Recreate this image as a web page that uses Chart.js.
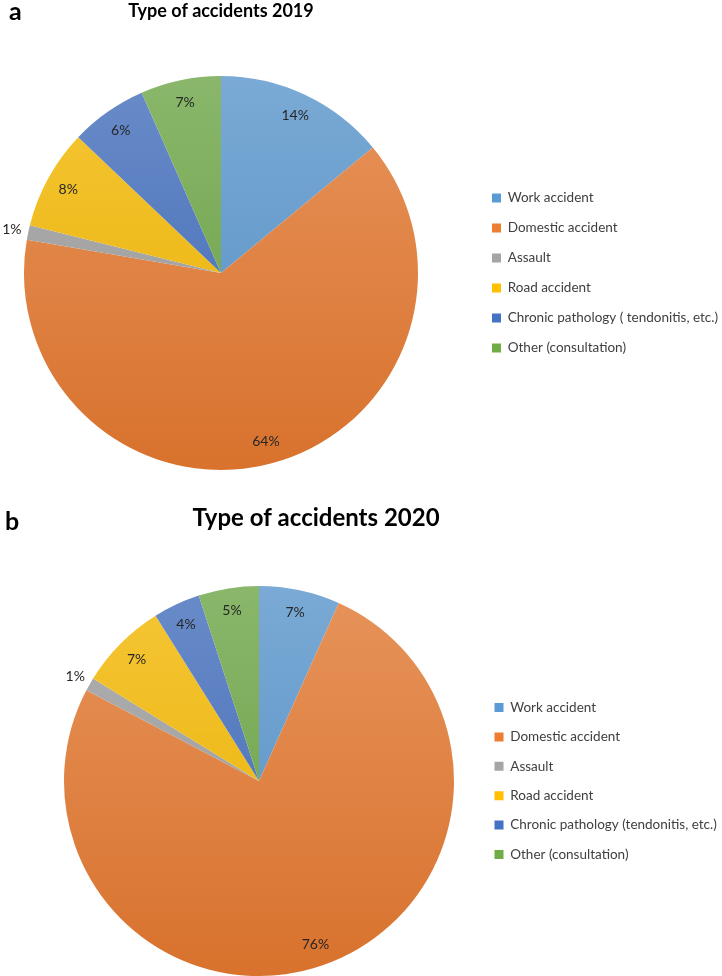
<!DOCTYPE html>
<html>
<head>
<meta charset="utf-8">
<script src="https://cdn.jsdelivr.net/npm/chart.js@4.4.1/dist/chart.umd.min.js"></script>
<style>
  html, body { margin: 0; padding: 0; background: #ffffff; }
  body { width: 722px; height: 976px; position: relative; overflow: hidden; }
  .panel { position: absolute; left: 0; width: 722px; height: 488px; }
  .letter { position: absolute; font-family: Lato, 'Liberation Sans', sans-serif; font-weight: bold; font-size: 25px; color: #000; line-height: 1; }
</style>
</head>
<body>
<div class="panel" style="top:0"><canvas id="c2019" width="722" height="488"></canvas></div>
<div class="panel" style="top:488px"><canvas id="c2020" width="722" height="488"></canvas></div>
<div class="letter" style="left:9px; top:-2px;">a</div>
<div class="letter" style="left:5px; top:508px;">b</div>
<script>
// ---- data ----
const categories2019 = ['Work accident', 'Domestic accident', 'Assault', 'Road accident', 'Chronic pathology ( tendonitis, etc.)', 'Other (consultation)'];
const categories2020 = ['Work accident', 'Domestic accident', 'Assault', 'Road accident', 'Chronic pathology (tendonitis, etc.)', 'Other (consultation)'];
const values2019 = [14.0, 63.7, 1.2, 8.2, 6.3, 6.6];
const values2020 = [6.7, 76.0, 1.1, 7.3, 3.9, 5.0];
const title2019 = 'Type of accidents 2019';
const title2020 = 'Type of accidents 2020';

// ---- style ----
const FONT = "Lato, 'Liberation Sans', sans-serif";
const baseColors = ['#5B9BD5', '#ED7D31', '#A5A5A5', '#FFC000', '#4472C4', '#70AD47'];

function hexToRgb(h) { const n = parseInt(h.slice(1), 16); return [(n >> 16) & 255, (n >> 8) & 255, n & 255]; }
function rgbStr(a) { return 'rgb(' + a.map(v => Math.max(0, Math.min(255, Math.round(v)))).join(',') + ')'; }
function lightTone(h) { const c = hexToRgb(h); return rgbStr(c.map(v => (v + (255 - v) * 0.22) * 0.96)); }
function darkTone(h) { const c = hexToRgb(h); return rgbStr(c.map(v => v * 0.91)); }

function gradientFill(ctx) {
  const chart = ctx.chart;
  const area = chart.chartArea;
  const base = baseColors[ctx.dataIndex % baseColors.length];
  if (!area) return base;
  const cy = (area.top + area.bottom) / 2;
  const r = Math.min(area.right - area.left, area.bottom - area.top) / 2;
  const g = chart.ctx.createLinearGradient(0, cy - r, 0, cy + r);
  g.addColorStop(0, lightTone(base));
  g.addColorStop(1, darkTone(base));
  return g;
}

// percentage labels placed along each slice's mid angle
const pctLabels = {
  id: 'pctLabels',
  afterDatasetsDraw(chart) {
    const meta = chart.getDatasetMeta(0);
    const data = chart.data.datasets[0].data;
    const total = data.reduce((a, b) => a + b, 0);
    const ctx = chart.ctx;
    ctx.save();
    ctx.font = '14px ' + FONT;
    ctx.fillStyle = '#262626';
    ctx.textAlign = 'center';
    ctx.textBaseline = 'middle';
    meta.data.forEach((arc, i) => {
      const p = arc.getProps(['x', 'y', 'startAngle', 'endAngle', 'outerRadius'], true);
      const pct = Math.round(data[i] / total * 100);
      const mid = (p.startAngle + p.endAngle) / 2;
      const k = pct < 3 ? 1.085 : 0.885;
      ctx.fillText(pct + '%', p.x + Math.cos(mid) * p.outerRadius * k, p.y + Math.sin(mid) * p.outerRadius * k);
    });
    ctx.restore();
  }
};

// moves the legend box sideways after layout, keeping the pie where the layout put it
const legendShift = {
  id: 'legendShift',
  afterLayout(chart, args, opts) {
    const lg = chart.legend;
    if (!lg || opts.dx === undefined) return;
    lg.left += opts.dx;
    lg.right = chart.width;
    lg.width = lg.right - lg.left;
  }
};

function makeChart(id, labels, values, title, opts) {
  return new Chart(document.getElementById(id), {
    type: 'pie',
    data: {
      labels: labels,
      datasets: [{ data: values, backgroundColor: gradientFill, borderWidth: 0, hoverOffset: 0 }]
    },
    options: {
      responsive: false,
      animation: false,
      events: [],
      layout: { padding: opts.padding },
      plugins: {
        tooltip: { enabled: false },
        legendShift: { dx: opts.legendDx },
        title: {
          display: true,
          text: title,
          fullSize: opts.titleFull,
          color: '#000000',
          font: { family: FONT, size: opts.titleSize, weight: 'bold', lineHeight: 1.2 },
          padding: opts.titlePad
        },
        legend: {
          position: 'right',
          fullSize: false,
          maxWidth: opts.legendWidth,
          labels: {
            boxWidth: 9,
            boxHeight: 9,
            padding: opts.legendPad,
            color: '#404040',
            font: { family: FONT, size: 13.5 },
            generateLabels(chart) {
              const items = Chart.overrides.pie.plugins.legend.labels.generateLabels(chart);
              items.forEach((it, i) => { it.fillStyle = baseColors[i]; it.strokeStyle = baseColors[i]; it.lineWidth = 0; });
              return items;
            }
          }
        }
      }
    },
    plugins: [pctLabels, legendShift]
  });
}

makeChart('c2019', categories2019, values2019, title2019, {
  padding: { left: 0, right: 80, top: 0, bottom: 18 },
  titleFull: false, titleSize: 18, titlePad: { top: 0, bottom: 54.4 },
  legendWidth: 200, legendPad: 16.5, legendDx: 33.5
});
makeChart('c2020', categories2020, values2020, title2020, {
  padding: { left: 0, right: 90, top: 0, bottom: 0 },
  titleFull: true, titleSize: 24, titlePad: { top: 15.6, bottom: 53.6 },
  legendWidth: 114, legendPad: 15.9, legendDx: -39.4
});
</script>
</body>
</html>
